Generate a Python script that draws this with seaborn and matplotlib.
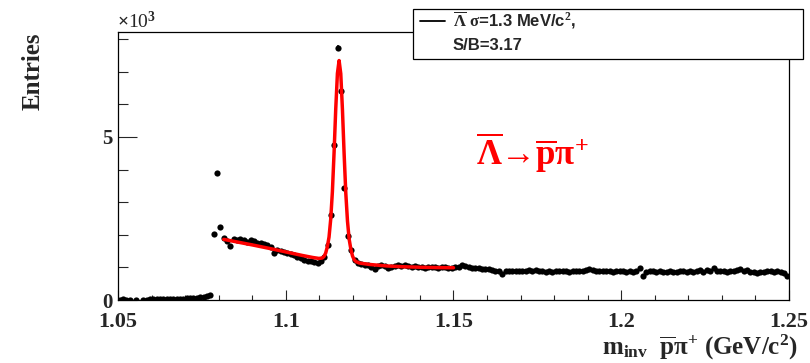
import numpy as np
import matplotlib
matplotlib.use("Agg")
import matplotlib.pyplot as plt
import seaborn as sns
from matplotlib.patches import Rectangle
from matplotlib.lines import Line2D
from matplotlib.ticker import MultipleLocator, FuncFormatter, FormatStrFormatter

# invariant mass histogram, 1 MeV bins from 1.050 to 1.250 GeV/c^2
bin_lo = 1.050
bin_width = 0.001
counts = [
    10, 20, 10, 15, 0, 15, 0, 10, 15, 20,
    20, 25, 25, 30, 30, 35, 35, 40, 45, 45,
    50, 55, 60, 70, 80, 95, 110, 140, 2010, 3900,
    2230, 1890, 1800, 1650, 1860, 1830, 1880, 1850, 1790, 1830,
    1800, 1760, 1750, 1720, 1690, 1620, 1430, 1540, 1510, 1480,
    1440, 1420, 1380, 1330, 1290, 1240, 1210, 1200, 1180, 1130,
    1190, 1330, 1690, 2610, 4750, 7720, 6410, 3430, 1960, 1530,
    1230, 1140, 1090, 1080, 1060, 1010, 950, 1030, 1060, 1040,
    990, 1010, 1050, 1060, 1040, 1060, 1030, 1000, 1050, 1020,
    1010, 990, 1000, 1020, 1000, 990, 1010, 1000, 990, 980,
    1000, 1020, 1070, 1040, 1000, 990, 970, 980, 960, 950,
    940, 930, 900, 880, 790, 880, 890, 900, 890, 900,
    890, 900, 910, 900, 910, 890, 880, 870, 880, 870,
    880, 890, 900, 880, 870, 880, 900, 880, 890, 930,
    940, 910, 900, 890, 900, 880, 890, 870, 900, 890,
    880, 870, 890, 870, 900, 970, 740, 860, 890, 880,
    870, 880, 860, 870, 880, 870, 860, 880, 890, 870,
    880, 870, 890, 910, 870, 920, 900, 990, 900, 880,
    890, 870, 900, 880, 920, 950, 890, 910, 870, 850,
    840, 860, 870, 900, 880, 860, 890, 870, 830, 740,
]

# fit curve (gaussian + polynomial background)
fit_x = [1.0815, 1.0850, 1.0900, 1.0950, 1.1000, 1.1050, 1.1080, 1.1099,
         1.1109, 1.1114, 1.1119, 1.1124, 1.1129, 1.1134, 1.1139, 1.1144,
         1.1149, 1.1154, 1.1159, 1.1164, 1.1169, 1.1174, 1.1179, 1.1184,
         1.1189, 1.1194, 1.1199, 1.1204, 1.1209, 1.1219, 1.1250, 1.1300,
         1.1350, 1.1400, 1.1450, 1.1500]
fit_y = [1860, 1790, 1690, 1585, 1475, 1365, 1305, 1275,
         1290, 1335, 1440, 1635, 1930, 2475, 3320, 4515,
         5860, 6950, 7345, 6940, 5835, 4480, 3275, 2420,
         1865, 1560, 1350, 1235, 1180, 1135, 1090, 1045,
         1020, 1005, 995, 990]

legend_line1 = r"$\overline{\mathrm{\Lambda}}$ $\mathrm{\sigma}$=1.3 MeV/c$^{\mathrm{2}}$,"
legend_line2 = "S/B=3.17"
decay_label = r"$\overline{\mathrm{\Lambda}}$→$\overline{\mathbf{p}}\mathbf{\pi}^{\mathbf{+}}$"
x_title = r"m$_{\mathbf{inv}}$  $\overline{\mathbf{p}}\mathbf{\pi}^{\mathbf{+}}$ (GeV/c$^{\mathbf{2}}$)"

sns.set_style("ticks")
plt.rcParams["font.family"] = ["Liberation Serif", "DejaVu Serif"]
plt.rcParams["font.weight"] = "bold"
plt.rcParams["mathtext.fontset"] = "custom"
plt.rcParams["mathtext.rm"] = "Liberation Serif"
plt.rcParams["mathtext.it"] = "Liberation Serif:italic"
plt.rcParams["mathtext.bf"] = "Liberation Serif:bold"
plt.rcParams["mathtext.default"] = "bf"

counts = np.array(counts, dtype=float)
centers = bin_lo + bin_width * (np.arange(len(counts)) + 0.5)
keep = counts > 0

fig = plt.figure(figsize=(8.1, 3.63), dpi=100)
ax = fig.add_axes([118 / 810, 63 / 363, 671 / 810, 268 / 363])

ax.errorbar(centers[keep], counts[keep], yerr=np.sqrt(counts[keep]),
            xerr=bin_width / 2, fmt="none", ecolor="black", elinewidth=1.1)
sns.scatterplot(x=centers[keep], y=counts[keep], ax=ax, color="black",
                s=20, marker="o", edgecolor="black", linewidth=0, zorder=3)
sns.lineplot(x=fit_x, y=fit_y, ax=ax, color="red", linewidth=2.5,
             sort=False, estimator=None, zorder=4)

ax.set_xlim(1.05, 1.25)
ax.set_ylim(0, 8220)
ax.xaxis.set_major_locator(MultipleLocator(0.05))
ax.xaxis.set_minor_locator(MultipleLocator(0.01))
ax.xaxis.set_major_formatter(FormatStrFormatter("%g"))
ax.yaxis.set_major_locator(MultipleLocator(5000))
ax.yaxis.set_minor_locator(MultipleLocator(1000))
ax.yaxis.set_major_formatter(FuncFormatter(lambda v, p: f"{v / 1000:g}"))
ax.tick_params(axis="x", which="major", direction="in", length=7.5, width=0.8,
               labelsize=16, pad=8.5, top=False)
ax.tick_params(axis="x", which="minor", direction="in", length=3.8, width=0.8, top=False)
ax.tick_params(axis="y", which="major", direction="in", length=13.5, width=0.8,
               labelsize=15, pad=4, right=False)
ax.tick_params(axis="y", which="minor", direction="in", length=7, width=0.8, right=False)
for sp in ax.spines.values():
    sp.set_visible(True)
    sp.set_linewidth(0.9)
    sp.set_color("black")
ax.set_xlabel("")
ax.set_ylabel("")

fig.text(117 / 810, 1 - 28 / 363, r"$\mathrm{\times}$10$^{\mathrm{3}}$", fontsize=14,
         fontweight="normal", ha="left", va="baseline")
fig.text(33 / 810, 1 - 32 / 363, "Entries", rotation=90, fontsize=18,
         ha="center", va="top")
fig.text(798 / 810, 1 - 355 / 363, x_title, fontsize=18, ha="right", va="baseline")
ax.text(0.617, 0.55, decay_label, transform=ax.transAxes, color="red",
        fontsize=25, ha="center", va="center")

# stat box in the ROOT style, partly outside the frame
fig.add_artist(Rectangle((413 / 810, 1 - 59 / 363), 390 / 810, 50 / 363,
                         transform=fig.transFigure, facecolor="white",
                         edgecolor="black", linewidth=0.9, zorder=5))
fig.add_artist(Line2D([420 / 810, 445 / 810], [1 - 20.5 / 363, 1 - 20.5 / 363],
                      transform=fig.transFigure, color="black", linewidth=1.3, zorder=6))
fig.text(453 / 810, 1 - 20.5 / 363, legend_line1, fontsize=12, ha="left",
         va="center", family=["Liberation Sans", "DejaVu Sans"], zorder=6)
fig.text(453 / 810, 1 - 45 / 363, legend_line2, fontsize=12, ha="left",
         va="center", family=["Liberation Sans", "DejaVu Sans"], zorder=6)

fig.savefig("out.png", dpi=100)
